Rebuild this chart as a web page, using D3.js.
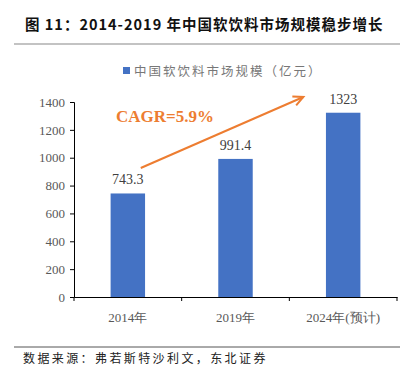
<!DOCTYPE html>
<html><head><meta charset="utf-8">
<script src="https://cdn.jsdelivr.net/npm/d3@7/dist/d3.min.js"></script>
<style>body{margin:0;background:#fff;}svg{display:block;}</style>
</head><body>
<svg id="c" width="411" height="378"></svg>
<script>
const categories = ["2014年", "2019年", "2024年(预计)"];
const values = [743.3, 991.4, 1323];
const valueLabels = ["743.3", "991.4", "1323"];
const yTicks = [0, 200, 400, 600, 800, 1000, 1200, 1400];
const seriesName = "中国软饮料市场规模（亿元）";
const title = "图 11：2014-2019 年中国软饮料市场规模稳步增长";
const source = "数据来源：弗若斯特沙利文，东北证券";
const cagrText = "CAGR=5.9%";
// arrow annotation in data space: [category, fraction within band, value]
const arrowFrom = ["2014年", 0.62, 926];
const arrowTo = ["2024年(预计)", 0.13, 1436];

const svg = d3.select("#c");
const serif = "'Liberation Serif','Times New Roman',serif";
const cjk = "'Noto Sans CJK SC','Noto Sans',sans-serif";

const x = d3.scaleBand().domain(categories).range([74, 397]).paddingInner(0.68).paddingOuter(0.34);
const y = d3.scaleLinear().domain([0, 1400]).range([297, 102]);

// title
svg.append("text").attr("x", 25).attr("y", 30).attr("font-family", cjk).attr("font-weight", "bold")
  .attr("font-size", 14.5).attr("fill", "#111").attr("letter-spacing", 1).attr("xml:space", "preserve")
  .style("white-space", "pre").text(title);
svg.append("line").attr("x1", 14).attr("x2", 400).attr("y1", 44).attr("y2", 44).attr("stroke", "#888").attr("stroke-width", 1.2);

// legend
svg.append("rect").attr("x", 123).attr("y", 67).attr("width", 7).attr("height", 7).attr("fill", "#4472C4");
svg.append("text").attr("x", 134).attr("y", 75.5).attr("font-family", cjk).attr("font-size", 12.5)
  .attr("fill", "#777").attr("letter-spacing", 2).text(seriesName);

// y axis
const yAxis = svg.append("g").attr("transform", "translate(74,0)")
  .call(d3.axisLeft(y).tickValues(yTicks).tickSize(4).tickPadding(5).tickFormat(d3.format("d")));
yAxis.select(".domain").attr("stroke", "#000");
yAxis.selectAll(".tick line").attr("stroke", "#000");
yAxis.selectAll("text").attr("font-family", serif).attr("font-size", 13).attr("fill", "#595959");

// x axis
const xAxis = svg.append("g").attr("transform", "translate(0,297)")
  .call(d3.axisBottom(x).tickSize(0).tickPadding(16));
xAxis.select(".domain").attr("stroke", "#000");
xAxis.selectAll("text").attr("font-family", serif).attr("font-size", 13).attr("fill", "#595959");
const bounds = [74].concat(categories.map(c => x(c) + x.bandwidth() + x.step() * x.paddingInner() / 2));
bounds[bounds.length - 1] = 397;
xAxis.selectAll(".sep").data(bounds).enter().append("line")
  .attr("x1", d => d).attr("x2", d => d).attr("y1", 0).attr("y2", 4).attr("stroke", "#000");

// bars
svg.selectAll(".bar").data(values).enter().append("rect")
  .attr("x", (d, i) => x(categories[i])).attr("width", x.bandwidth())
  .attr("y", d => y(d)).attr("height", d => y(0) - y(d)).attr("fill", "#4472C4");

svg.selectAll(".vl").data(values).enter().append("text")
  .attr("x", (d, i) => x(categories[i]) + x.bandwidth() / 2).attr("y", d => y(d) - 9)
  .attr("text-anchor", "middle").attr("font-family", serif).attr("font-size", 14).attr("fill", "#404040")
  .text((d, i) => valueLabels[i]);

// arrow
const px = a => x(a[0]) - x.step() * x.paddingInner() / 2 + x.step() * a[1];
const x1 = px(arrowFrom), y1 = y(arrowFrom[2]), x2 = px(arrowTo), y2 = y(arrowTo[2]);
const orange = "#ED7D31";
svg.append("line").attr("x1", x1).attr("y1", y1).attr("x2", x2).attr("y2", y2)
  .attr("stroke", orange).attr("stroke-width", 2);
const ang = Math.atan2(y2 - y1, x2 - x1), hl = 11, ha = 0.45;
svg.append("path").attr("d",
  `M${x2 - hl * Math.cos(ang - ha)},${y2 - hl * Math.sin(ang - ha)}L${x2},${y2}L${x2 - hl * Math.cos(ang + ha)},${y2 - hl * Math.sin(ang + ha)}`)
  .attr("fill", "none").attr("stroke", orange).attr("stroke-width", 2);
svg.append("text").attr("x", 116).attr("y", 122).attr("font-family", serif).attr("font-weight", "bold")
  .attr("font-size", 17).attr("fill", orange).text(cagrText);

// source
svg.append("line").attr("x1", 14).attr("x2", 400).attr("y1", 347).attr("y2", 347).attr("stroke", "#555").attr("stroke-width", 1);
svg.append("text").attr("x", 23).attr("y", 363).attr("font-family", cjk).attr("font-size", 12)
  .attr("fill", "#222").attr("letter-spacing", 2.4).text(source);
</script>
</body></html>
